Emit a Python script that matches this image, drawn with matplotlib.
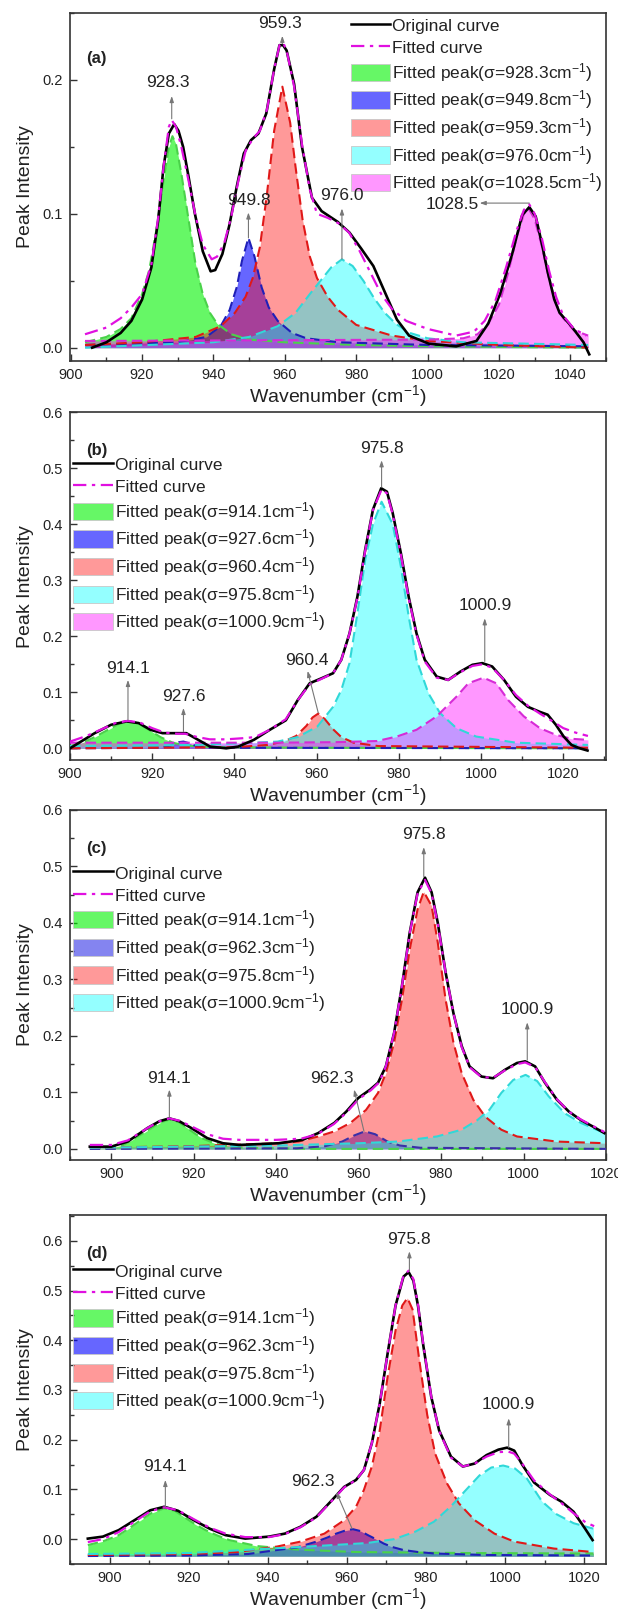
import numpy as np
import matplotlib
matplotlib.use('Agg')
import matplotlib.pyplot as plt
import matplotlib.patches as mpatches
from matplotlib.lines import Line2D
from matplotlib.ticker import MultipleLocator, FormatStrFormatter

plt.rcParams['font.family'] = ['Liberation Sans', 'DejaVu Sans']
plt.rcParams['mathtext.fontset'] = 'custom'
plt.rcParams['mathtext.rm'] = 'Liberation Sans'
plt.rcParams['mathtext.it'] = 'Liberation Sans:italic'
plt.rcParams['mathtext.bf'] = 'Liberation Sans:bold'

#########################################
# panel (a)
A_ORIG_X = [906, 910, 914, 917, 920, 922.6, 924.5, 926, 927.5, 929, 930.2, 931.5, 933, 934.8, 937, 939.2,
            940.5, 942.5, 944.5, 946.5, 948.5, 950.5, 952.6, 954.8, 957, 958.5, 959.5, 960.5, 962.6, 964.8,
            967.6, 970.3, 974.8, 978.1, 981.4, 984.8, 988.1, 991.4, 994.8, 1000.3, 1008, 1013.7, 1017, 1020.3,
            1023.7, 1026.5, 1028.5, 1030.3, 1032, 1033.7, 1035.5, 1037, 1040.3, 1043.7, 1045.3]
A_ORIG_Y = [0.000, 0.004, 0.011, 0.020, 0.036, 0.060, 0.095, 0.135, 0.160, 0.167, 0.162, 0.150, 0.128, 0.100,
            0.072, 0.057, 0.058, 0.070, 0.092, 0.120, 0.145, 0.155, 0.160, 0.175, 0.208, 0.226, 0.226, 0.222,
            0.197, 0.150, 0.112, 0.102, 0.094, 0.086, 0.074, 0.061, 0.041, 0.021, 0.009, 0.003, 0.001, 0.005,
            0.018, 0.040, 0.070, 0.099, 0.105, 0.098, 0.078, 0.056, 0.036, 0.026, 0.016, 0.004, -0.005]
A_FIT_X = [904, 910, 914, 917, 920, 922.6, 924.5, 926, 927.5, 928.3, 929.5, 931, 933, 935, 937, 939.5, 941,
           943, 945, 947, 949, 951, 953, 955, 957, 958.5, 959.5, 960.5, 962.6, 964.8, 967, 969, 972, 975, 978,
           981, 984, 987, 990, 994, 1000, 1008, 1013, 1016, 1019, 1022, 1025, 1027, 1028.5, 1030, 1032, 1034,
           1036, 1038, 1041, 1044.5]
A_FIT_Y = [0.010, 0.015, 0.022, 0.030, 0.040, 0.062, 0.097, 0.135, 0.165, 0.170, 0.165, 0.150, 0.125, 0.098,
           0.077, 0.066, 0.068, 0.078, 0.098, 0.125, 0.147, 0.156, 0.162, 0.178, 0.208, 0.226, 0.228, 0.222,
           0.195, 0.152, 0.118, 0.100, 0.097, 0.093, 0.086, 0.072, 0.056, 0.040, 0.029, 0.020, 0.014, 0.009,
           0.012, 0.020, 0.035, 0.060, 0.088, 0.103, 0.107, 0.100, 0.082, 0.058, 0.038, 0.024, 0.014, 0.009]
A_P1_X = [904, 910, 914, 917, 920, 922, 924, 926, 927.5, 928.5, 929.5, 931, 933, 935, 937, 939, 941, 945,
          950, 960, 980, 1000, 1045]
A_P1_Y = [0.004, 0.008, 0.014, 0.022, 0.040, 0.058, 0.088, 0.125, 0.150, 0.158, 0.152, 0.130, 0.096, 0.062,
          0.040, 0.026, 0.018, 0.010, 0.006, 0.004, 0.002, 0.001, 0.000]
A_P2_X = [904, 930, 938, 942, 944.5, 946.5, 948, 949.8, 951.5, 953.5, 955.5, 958, 962, 966, 975, 1000, 1045]
A_P2_Y = [0.002, 0.004, 0.008, 0.016, 0.028, 0.045, 0.065, 0.082, 0.068, 0.045, 0.030, 0.020, 0.011, 0.007,
          0.004, 0.002, 0.001]
A_P3_X = [904, 920, 935, 942, 946, 949, 951, 953, 955, 957, 959.3, 961.5, 963, 965, 967, 969, 972, 975, 980,
          990, 1000, 1020, 1045]
A_P3_Y = [0.002, 0.004, 0.008, 0.016, 0.026, 0.038, 0.052, 0.075, 0.115, 0.162, 0.195, 0.168, 0.135, 0.095,
          0.068, 0.052, 0.038, 0.028, 0.017, 0.009, 0.005, 0.002, 0.000]
A_P4_X = [904, 940, 950, 958, 963, 967, 970, 973, 976, 979, 982, 985, 988, 991, 995, 1000, 1010, 1045]
A_P4_Y = [0.000, 0.004, 0.008, 0.016, 0.026, 0.040, 0.050, 0.060, 0.066, 0.061, 0.050, 0.037, 0.026, 0.018,
          0.011, 0.007, 0.004, 0.002]
A_P5_X = [904, 1000, 1010, 1014, 1017, 1020, 1022.5, 1025, 1027, 1028.3, 1030, 1032, 1034, 1036, 1038, 1041,
          1045]
A_P5_Y = [0.005, 0.006, 0.007, 0.010, 0.018, 0.032, 0.055, 0.083, 0.100, 0.104, 0.096, 0.076, 0.052, 0.033,
          0.022, 0.013, 0.009]
A_CENTERS = ['928.3', '949.8', '959.3', '976.0', '1028.5']

#########################################
# panel (b)
B_ORIG_X = [900, 902, 906, 910, 913.8, 916.7, 919.6, 922.5, 925.4, 928.3, 931.2, 934.1, 938, 940.9, 944.7,
            948.6, 952.5, 955.4, 958.3, 961.2, 964, 966, 968, 969.9, 971.8, 973.7, 975.7, 977.1, 978.5, 980.5,
            982.4, 984.3, 986.3, 989.2, 992, 995, 997.9, 1000.3, 1002.7, 1005.6, 1008.5, 1011.4, 1014.3,
            1016.2, 1018.2, 1020.1, 1022, 1024, 1025.9]
B_ORIG_Y = [0.000, 0.009, 0.027, 0.042, 0.048, 0.045, 0.033, 0.027, 0.027, 0.027, 0.015, 0.003, 0.000, 0.003,
            0.015, 0.033, 0.050, 0.086, 0.116, 0.125, 0.134, 0.158, 0.205, 0.270, 0.354, 0.426, 0.464, 0.458,
            0.420, 0.348, 0.270, 0.205, 0.158, 0.128, 0.122, 0.137, 0.149, 0.152, 0.146, 0.122, 0.092, 0.074,
            0.065, 0.060, 0.042, 0.021, 0.006, 0.000, -0.004]
B_FIT_X = [900, 904, 908, 911, 914, 917, 920, 923, 926, 928, 931, 934, 938, 942, 945, 948.6, 952.5, 955.4,
           958.3, 961.2, 964, 966, 968, 969.9, 971.8, 973.7, 975.8, 977.1, 978.5, 980.5, 982.4, 984.3, 986.3,
           989.2, 992, 995, 997.9, 1000.3, 1002.7, 1005.6, 1008.5, 1011.4, 1014.3, 1017, 1020, 1023, 1026]
B_FIT_Y = [0.012, 0.022, 0.035, 0.045, 0.049, 0.046, 0.036, 0.028, 0.026, 0.026, 0.020, 0.016, 0.016, 0.018,
           0.020, 0.033, 0.052, 0.086, 0.114, 0.124, 0.134, 0.158, 0.205, 0.268, 0.352, 0.425, 0.462, 0.455,
           0.418, 0.345, 0.268, 0.203, 0.155, 0.126, 0.122, 0.136, 0.147, 0.150, 0.144, 0.122, 0.095, 0.076,
           0.062, 0.050, 0.036, 0.028, 0.022]
B_P1_X = [900, 903, 906, 909, 912, 914.3, 916.5, 919, 922, 925, 928, 935, 960, 1026]
B_P1_Y = [0.004, 0.010, 0.020, 0.032, 0.044, 0.048, 0.045, 0.034, 0.020, 0.010, 0.005, 0.002, 0.001, 0.000]
B_P2_X = [900, 922, 924.5, 926.5, 927.6, 929, 931, 934, 1026]
B_P2_Y = [0.000, 0.001, 0.005, 0.011, 0.012, 0.009, 0.003, 0.001, 0.000]
B_P3_X = [900, 940, 948, 952, 955, 957.5, 959, 960.4, 962, 964, 966, 969, 975, 1026]
B_P3_Y = [0.000, 0.002, 0.006, 0.012, 0.022, 0.040, 0.055, 0.062, 0.052, 0.034, 0.020, 0.010, 0.004, 0.001]
B_P4_X = [900, 930, 945, 950.5, 955.4, 960.2, 964, 966, 968, 969.9, 971.8, 973.7, 975.8, 978.5, 980.5, 982.4,
          984.3, 987.2, 990, 994, 998.8, 1008.5, 1026]
B_P4_Y = [0.004, 0.006, 0.010, 0.012, 0.020, 0.039, 0.074, 0.104, 0.152, 0.240, 0.336, 0.400, 0.440, 0.400,
          0.324, 0.235, 0.158, 0.098, 0.063, 0.036, 0.021, 0.010, 0.006]
B_P5_X = [900, 950, 965, 974.7, 979.5, 984.3, 989.2, 994, 996.9, 1000.6, 1003.7, 1006.6, 1010.4, 1014.3,
          1018.2, 1022, 1026]
B_P5_Y = [0.010, 0.010, 0.011, 0.013, 0.021, 0.033, 0.057, 0.092, 0.116, 0.126, 0.116, 0.086, 0.057, 0.036,
          0.024, 0.017, 0.015]
B_CENTERS = ['914.1', '927.6', '960.4', '975.8', '1000.9']

#########################################
# panel (c)
C_ORIG_X = [894.8, 900, 904, 908.8, 911.7, 914.1, 916.5, 919.4, 923.3, 927.1, 931, 940.6, 946.4, 950.2,
            954.1, 957, 959.9, 962.8, 964.7, 966.6, 968.6, 970.5, 972.4, 974.3, 976.1, 977.7, 979.2, 981.1,
            983, 985, 986.9, 989.8, 992.6, 995.5, 998.4, 1000.4, 1002.8, 1005.2, 1008.1, 1011, 1013.9, 1016.7,
            1019.6]
C_ORIG_Y = [0.004, 0.004, 0.013, 0.037, 0.049, 0.054, 0.049, 0.037, 0.019, 0.010, 0.007, 0.010, 0.016, 0.028,
            0.046, 0.066, 0.090, 0.105, 0.117, 0.146, 0.205, 0.288, 0.383, 0.454, 0.480, 0.454, 0.400, 0.312,
            0.240, 0.182, 0.146, 0.128, 0.125, 0.140, 0.152, 0.155, 0.146, 0.117, 0.087, 0.066, 0.051, 0.040,
            0.028]
C_FIT_X = [894.8, 900, 904, 908.8, 911.7, 914.1, 916.5, 919.4, 923.3, 927.1, 931, 940, 946, 950, 954, 957, 960,
           963, 965, 966.6, 968.6, 970.5, 972.4, 974.3, 976.1, 977.7, 979.2, 981.1, 983, 985, 987, 989.8,
           992.6, 995.5, 998.4, 1000.4, 1002.8, 1005.2, 1008.1, 1011, 1013.9, 1016.7, 1019.6]
C_FIT_Y = [0.007, 0.007, 0.015, 0.037, 0.049, 0.054, 0.050, 0.040, 0.026, 0.018, 0.016, 0.016, 0.018, 0.026,
           0.044, 0.064, 0.088, 0.104, 0.118, 0.146, 0.205, 0.288, 0.382, 0.452, 0.476, 0.452, 0.398, 0.312,
           0.240, 0.180, 0.144, 0.127, 0.126, 0.139, 0.150, 0.153, 0.145, 0.118, 0.088, 0.066, 0.052, 0.041,
           0.030]
C_P1_X = [894.8, 900, 903, 906, 909.8, 912, 914.1, 916.5, 918.4, 920.5, 922.3, 925, 927.1, 932, 950, 1020]
C_P1_Y = [0.000, 0.002, 0.007, 0.020, 0.037, 0.047, 0.052, 0.047, 0.037, 0.026, 0.018, 0.010, 0.006, 0.002,
          0.000, 0.000]
C_P2_X = [894.8, 945, 952, 956, 959, 961.5, 964, 967, 970, 975, 1020]
C_P2_Y = [0.000, 0.001, 0.005, 0.013, 0.024, 0.031, 0.026, 0.013, 0.006, 0.002, 0.000]
C_P3_X = [894.8, 920, 940.6, 945.4, 950.2, 954.1, 958, 961.8, 964.7, 966.6, 968.6, 970.5, 972.4, 974.3, 975.8,
          977.7, 979.2, 981.1, 983, 985, 987.8, 990.7, 994.6, 998.4, 1008, 1020]
C_P3_Y = [0.002, 0.005, 0.010, 0.013, 0.022, 0.031, 0.046, 0.069, 0.099, 0.134, 0.188, 0.264, 0.353, 0.424,
          0.455, 0.430, 0.365, 0.264, 0.188, 0.134, 0.087, 0.057, 0.034, 0.022, 0.013, 0.010]
C_P4_X = [894.8, 940, 960, 969.5, 979, 985, 988.8, 991.7, 994.6, 997.5, 1000.5, 1003.3, 1006.1, 1010, 1013.9,
          1017.7, 1020]
C_P4_Y = [0.002, 0.006, 0.010, 0.013, 0.022, 0.034, 0.051, 0.069, 0.099, 0.122, 0.131, 0.120, 0.093, 0.063,
          0.046, 0.034, 0.028]
C_CENTERS = ['914.1', '962.3', '975.8', '1000.9']

#########################################
# panel (d)
D_ORIG_X = [894.5, 898.3, 902.3, 906.3, 910.3, 913.8, 917.3, 921.3, 925.3, 929.3, 934.3, 940.3, 944.3, 948.3,
            952.3, 956.3, 959.3, 962.3, 964.3, 966.3, 968.3, 970.3, 972.3, 974.3, 975.6, 976.8, 978.0, 979.3,
            981.3, 983.3, 986.3, 989.3, 992.3, 995.3, 998.3, 1000.5, 1002.3, 1004.3, 1007.3, 1011.3, 1014.3,
            1017.3, 1020.3, 1022.1]
D_ORIG_Y = [0.001, 0.005, 0.018, 0.038, 0.058, 0.065, 0.057, 0.038, 0.021, 0.008, 0.001, 0.005, 0.011, 0.025,
            0.045, 0.079, 0.105, 0.119, 0.139, 0.193, 0.273, 0.374, 0.470, 0.528, 0.537, 0.520, 0.468, 0.390,
            0.287, 0.219, 0.166, 0.146, 0.152, 0.169, 0.180, 0.184, 0.178, 0.150, 0.114, 0.089, 0.075, 0.055,
            0.020, -0.002]
D_FIT_X = [894.5, 898.3, 902.3, 906.3, 910.3, 913.8, 917.3, 921.3, 925.3, 929.3, 934.3, 940.3, 944.3, 948.3,
           952.3, 956.3, 959.3, 962.3, 964.3, 966.3, 968.3, 970.3, 972.3, 974.3, 975.6, 976.8, 978.0, 979.3,
           981.3, 983.3, 986.3, 989.3, 992.3, 995.3, 998.3, 1000.8, 1002.3, 1004.3, 1007.3, 1011.3, 1014.3,
           1017.3, 1020.3, 1022.5]
D_FIT_Y = [-0.006, 0.000, 0.014, 0.035, 0.056, 0.064, 0.058, 0.040, 0.023, 0.011, 0.004, 0.004, 0.010, 0.024,
           0.044, 0.078, 0.104, 0.119, 0.139, 0.193, 0.273, 0.374, 0.470, 0.530, 0.540, 0.523, 0.470, 0.392,
           0.288, 0.218, 0.164, 0.146, 0.152, 0.166, 0.175, 0.176, 0.172, 0.152, 0.118, 0.090, 0.072, 0.052,
           0.034, 0.026]
D_P1_X = [894.5, 898.5, 902.3, 905, 907.3, 910.5, 913.8, 916.5, 919.3, 921.8, 924.3, 927.3, 930.3, 937.3,
          947.3, 962.3, 990, 1022.3]
D_P1_Y = [-0.012, -0.004, 0.008, 0.022, 0.035, 0.052, 0.062, 0.057, 0.042, 0.029, 0.018, 0.007, -0.002, -0.014,
          -0.021, -0.026, -0.028, -0.029]
D_P2_X = [894.5, 920, 935, 942.3, 947.3, 952.3, 955, 957.3, 959.5, 961.5, 963.5, 965.3, 967.3, 969.3, 971.5,
          974.3, 978, 982.3, 995, 1022.3]
D_P2_Y = [-0.034, -0.033, -0.030, -0.022, -0.017, -0.005, 0.003, 0.011, 0.017, 0.020, 0.016, 0.008, 0.000,
          -0.009, -0.016, -0.022, -0.026, -0.029, -0.032, -0.033]
D_P3_X = [894.5, 920, 932.3, 942.3, 948.3, 954.3, 959.3, 962.3, 964.3, 966.3, 968.3, 970.3, 972.3, 974, 975.3,
          976.6, 978.3, 980.3, 982.3, 985.3, 988.3, 992.3, 997.3, 1002.3, 1012.3, 1022.3]
D_P3_Y = [-0.032, -0.030, -0.026, -0.015, -0.005, 0.011, 0.038, 0.065, 0.099, 0.146, 0.219, 0.327, 0.420,
          0.470, 0.485, 0.462, 0.360, 0.250, 0.172, 0.112, 0.072, 0.038, 0.011, -0.005, -0.019, -0.026]
D_P4_X = [894.5, 920, 950, 965, 972, 977.3, 982, 986.3, 990, 993.5, 996.5, 999.5, 1002.5, 1005.5, 1009.3, 1013,
          1017.3, 1022.3]
D_P4_Y = [-0.030, -0.028, -0.015, -0.008, 0.000, 0.015, 0.035, 0.066, 0.098, 0.128, 0.144, 0.148, 0.142, 0.122,
          0.076, 0.050, 0.032, 0.021]
D_CENTERS = ['914.1', '962.3', '975.8', '1000.9']

#########################################
# (label, text x, text y, arrow tail x, arrow tail y, arrow head x, arrow head y)
A_NOTES = [('928.3', 927.3, 0.198, 928.3, 0.171, 928.3, 0.188),
           ('959.3', 958.6, 0.242, 959.3, 0.227, 959.3, 0.233),
           ('949.8', 949.8, 0.110, 949.8, 0.082, 949.8, 0.101),
           ('976.0', 976.0, 0.114, 976.0, 0.066, 976.0, 0.104),
           ('1028.5', 1007.0, 0.107, 1028.5, 0.108, 1014.6, 0.108)]
B_NOTES = [('914.1', 914.1, 0.143, 914.1, 0.050, 914.1, 0.122),
           ('927.6', 927.6, 0.092, 927.6, 0.030, 927.6, 0.072),
           ('960.4', 957.6, 0.157, 960.4, 0.063, 957.8, 0.138),
           ('975.8', 975.8, 0.535, 975.8, 0.466, 975.8, 0.514),
           ('1000.9', 1000.9, 0.254, 1000.9, 0.155, 1000.9, 0.232)]
C_NOTES = [('914.1', 914.1, 0.125, 914.1, 0.056, 914.1, 0.105),
           ('962.3', 953.4, 0.125, 961.3, 0.031, 958.9, 0.105),
           ('975.8', 975.8, 0.557, 975.8, 0.482, 975.8, 0.534),
           ('1000.9', 1000.9, 0.247, 1000.9, 0.157, 1000.9, 0.224)]
D_NOTES = [('914.1', 914.1, 0.147, 914.1, 0.064, 914.1, 0.119),
           ('962.3', 951.5, 0.115, 961.3, 0.021, 957.3, 0.095),
           ('975.8', 975.8, 0.602, 975.8, 0.539, 975.8, 0.579),
           ('1000.9', 1000.9, 0.270, 1000.9, 0.184, 1000.9, 0.243)]

FILL = {'g': (0.0, 0.95, 0.0, 0.6), 'b': (0.0, 0.0, 1.0, 0.6), 'r': (1.0, 0.05, 0.05, 0.42),
        'c': (0.0, 1.0, 1.0, 0.42), 'm': (1.0, 0.1, 1.0, 0.45), 'p': (0.2, 0.2, 0.9, 0.6)}
EDGE = {'g': '#4ad24a', 'b': '#1f1fb8', 'r': '#e01818', 'c': '#30d8d8', 'm': '#d62bd6', 'p': '#3a2fa8'}
TXT = '#222222'


def DrawPanel(ax, tag, orig, fit, peaks, colors, centers, base, notes, xlim, ylim, legloc, legbox):
    for (px, py), col in zip(peaks, colors):
        ax.fill_between(px, py, base, color=FILL[col], lw=0, zorder=2)
    for (px, py), col in zip(peaks, colors):
        ax.plot(px, py, color=EDGE[col], lw=1.5, dashes=(5, 2.5), zorder=3)
    ax.plot(orig[0], orig[1], color='black', lw=1.9, zorder=4)
    ax.plot(fit[0], fit[1], color='#e010e0', lw=1.6, dashes=(6, 2.5, 1.5, 2.5), zorder=5)

    for lab, tx, ty, ax0, ay0, ax1, ay1 in notes:
        ax.annotate('', xy=(ax0, ay0), xytext=(ax1, ay1),
                    arrowprops=dict(arrowstyle='<|-,head_length=0.35,head_width=0.12',
                                    color='#777777', lw=0.8, shrinkA=0, shrinkB=0), zorder=6)
        ax.text(tx, ty, lab, ha='center', va='center', fontsize=12.5, color=TXT, zorder=6)

    ax.text(0.03, 0.89 if tag != '(a)' else 0.87, tag, transform=ax.transAxes, fontsize=12,
            fontweight='bold', color=TXT, va='center')

    ax.set_xlim(*xlim)
    ax.set_ylim(*ylim)
    ax.xaxis.set_major_locator(MultipleLocator(20))
    ax.xaxis.set_minor_locator(MultipleLocator(10))
    ax.yaxis.set_major_locator(MultipleLocator(0.1))
    ax.yaxis.set_minor_locator(MultipleLocator(0.05))
    ax.yaxis.set_major_formatter(FormatStrFormatter('%.1f'))
    ax.tick_params(which='both', direction='in', colors='#333333', labelcolor=TXT, labelsize=10.5, width=1.0)
    ax.tick_params(which='major', length=5, pad=5)
    ax.tick_params(which='minor', length=3)
    for sp in ax.spines.values():
        sp.set_linewidth(1.2)
        sp.set_color('#333333')
    ax.set_xlabel('Wavenumber (cm$^{-1}$)', fontsize=14, color=TXT, labelpad=1)
    ax.set_ylabel('Peak Intensity', fontsize=14, color=TXT, labelpad=6)

    handles = [Line2D([], [], color='black', lw=1.8),
               Line2D([], [], color='#e010e0', lw=1.6, dashes=(6, 2.5, 1.5, 2.5))]
    labels = ['Original curve', 'Fitted curve']
    for col, c in zip(colors, centers):
        handles.append(mpatches.Patch(facecolor=FILL[col], edgecolor='#c8c8c8', lw=0.6))
        labels.append('Fitted peak(\u03c3=' + c + 'cm$^{-1}$)')
    ax.legend(handles, labels, loc=legloc, bbox_to_anchor=legbox, frameon=False, fontsize=12.5,
              handlelength=2.25, handleheight=1.15, labelspacing=0.27, handletextpad=0.15,
              borderaxespad=0.1, borderpad=0.1, labelcolor=TXT)


fig = plt.figure(figsize=(6.18, 16.11), dpi=100)
L, W = 0.1133, 0.8673
axA = fig.add_axes([L, 0.7759, W, 0.2160])
axB = fig.add_axes([L, 0.5282, W, 0.2160])
axC = fig.add_axes([L, 0.2800, W, 0.2173])
axD = fig.add_axes([L, 0.0292, W, 0.2166])

DrawPanel(axA, '(a)', (A_ORIG_X, A_ORIG_Y), (A_FIT_X, A_FIT_Y),
          [(A_P1_X, A_P1_Y), (A_P2_X, A_P2_Y), (A_P3_X, A_P3_Y), (A_P4_X, A_P4_Y), (A_P5_X, A_P5_Y)],
          ['g', 'b', 'r', 'c', 'm'], A_CENTERS, 0.0, A_NOTES, (899.8, 1050), (-0.01, 0.25),
          'upper right', (1.0, 1.0))
DrawPanel(axB, '(b)', (B_ORIG_X, B_ORIG_Y), (B_FIT_X, B_FIT_Y),
          [(B_P1_X, B_P1_Y), (B_P2_X, B_P2_Y), (B_P3_X, B_P3_Y), (B_P4_X, B_P4_Y), (B_P5_X, B_P5_Y)],
          ['g', 'b', 'r', 'c', 'm'], B_CENTERS, 0.0, B_NOTES, (900, 1030.4), (-0.021, 0.6),
          'upper left', (0.0, 0.885))
DrawPanel(axC, '(c)', (C_ORIG_X, C_ORIG_Y), (C_FIT_X, C_FIT_Y),
          [(C_P1_X, C_P1_Y), (C_P2_X, C_P2_Y), (C_P3_X, C_P3_Y), (C_P4_X, C_P4_Y)],
          ['g', 'p', 'r', 'c'], C_CENTERS, 0.0, C_NOTES, (890, 1020), (-0.0195, 0.6),
          'upper left', (0.0, 0.855))
DrawPanel(axD, '(d)', (D_ORIG_X, D_ORIG_Y), (D_FIT_X, D_FIT_Y),
          [(D_P1_X, D_P1_Y), (D_P2_X, D_P2_Y), (D_P3_X, D_P3_Y), (D_P4_X, D_P4_Y)],
          ['g', 'b', 'r', 'c'], D_CENTERS, -0.034, D_NOTES, (890, 1025.5), (-0.05, 0.652),
          'upper left', (0.0, 0.875))

plt.savefig('out.png', dpi=100)
